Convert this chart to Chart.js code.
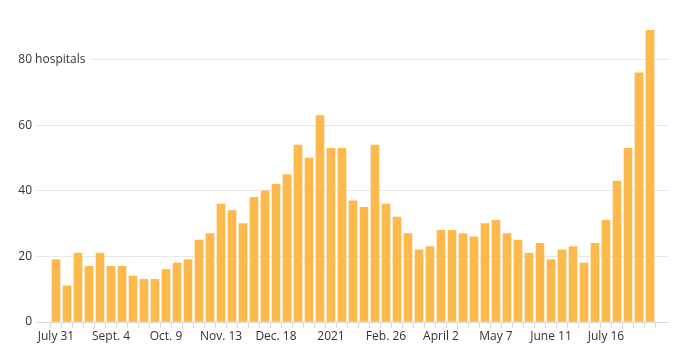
<!DOCTYPE html>
<html>
<head>
<meta charset="utf-8">
<script src="https://cdn.jsdelivr.net/npm/chart.js@4/dist/chart.umd.min.js"></script>
<style>
  html, body { margin: 0; padding: 0; background: #fff; }
  #wrap { width: 685px; height: 353px; }
</style>
</head>
<body>
<div id="wrap"><canvas id="c" width="685" height="353"></canvas></div>
<script>
// Weekly categories (week ending), July 31, 2020 - Aug. 13, 2021
const categories = [
  "July 31","Aug. 7","Aug. 14","Aug. 21","Aug. 28",
  "Sept. 4","Sept. 11","Sept. 18","Sept. 25","Oct. 2",
  "Oct. 9","Oct. 16","Oct. 23","Oct. 30","Nov. 6",
  "Nov. 13","Nov. 20","Nov. 27","Dec. 4","Dec. 11",
  "Dec. 18","Dec. 25","Jan. 1","Jan. 8","Jan. 15",
  "Jan. 22","Jan. 29","Feb. 5","Feb. 12","Feb. 19",
  "Feb. 26","March 5","March 12","March 19","March 26",
  "April 2","April 9","April 16","April 23","April 30",
  "May 7","May 14","May 21","May 28","June 4",
  "June 11","June 18","June 25","July 2","July 9",
  "July 16","July 23","July 30","Aug. 6","Aug. 13"
];
// Number of hospitals
const hospitals = [
  19, 11, 21, 17, 21,
  17, 17, 14, 13, 13,
  16, 18, 19, 25, 27,
  36, 34, 30, 38, 40,
  42, 45, 54, 50, 63,
  53, 53, 37, 35, 54,
  36, 32, 27, 22, 23,
  28, 28, 27, 26, 30,
  31, 27, 25, 21, 24,
  19, 22, 23, 18, 24,
  31, 43, 53, 76, 89
];
// Shown x tick labels (every fifth week)
const tickLabels = ["July 31","Sept. 4","Oct. 9","Nov. 13","Dec. 18","2021","Feb. 26","April 2","May 7","June 11","July 16"];
// Y tick values
const yTicks = [0, 20, 40, 60, 80];
const yUnit = " hospitals";

const FONT = "'Open Sans', 'DejaVu Sans', sans-serif";
const TEXT = "#333333";

const unitPlugin = {
  id: 'unitLabel',
  beforeDatasetsDraw(chart) {
    const y = chart.scales.y;
    const ctx = chart.ctx;
    const top = yTicks[yTicks.length - 1];
    const py = y.getPixelForValue(top);
    ctx.save();
    ctx.font = "12px " + FONT;
    const startX = y.right - 4;
    const w = ctx.measureText(yUnit).width;
    ctx.fillStyle = "#ffffff";
    ctx.fillRect(chart.chartArea.left - 1, py - 2, startX + w + 6 - chart.chartArea.left + 1, 4);
    ctx.fillStyle = TEXT;
    ctx.textAlign = "left";
    ctx.textBaseline = "middle";
    ctx.fillText(yUnit, startX, py);
    ctx.restore();
  }
};

new Chart(document.getElementById('c'), {
  type: 'bar',
  data: {
    datasets: [{
      label: 'Hospitals',
      data: hospitals.map((v, i) => ({ x: i, y: v })),
      backgroundColor: '#fdb94b',
      borderWidth: 0,
      barThickness: 8
    }]
  },
  options: {
    responsive: false,
    animation: false,
    devicePixelRatio: 1,
    layout: { padding: { top: 27, right: 16, left: 0, bottom: 0 } },
    plugins: { legend: { display: false }, tooltip: { enabled: false } },
    scales: {
      x: {
        type: 'linear',
        offset: false,
        min: -20 / 11,
        max: 54 + 19 / 11,
        afterBuildTicks: (s) => { s.ticks = categories.map((c, i) => ({ value: i })); },
        afterFit: (s) => { s.height = 31; },
        grid: { drawOnChartArea: false, drawTicks: true, tickLength: 6, color: '#d9d9d9' },
        border: { display: false },
        ticks: {
          autoSkip: false,
          maxRotation: 0,
          padding: 1,
          color: TEXT,
          font: { family: FONT, size: 12 },
          callback: (v, i) => (i % 5 === 0 ? tickLabels[i / 5] : '')
        }
      },
      y: {
        min: 0,
        max: 90,
        afterBuildTicks: (s) => { s.ticks = yTicks.map(v => ({ value: v })); },
        afterFit: (s) => { s.width = 36; },
        grid: {
          drawTicks: false,
          color: (ctx) => (ctx.tick && ctx.tick.value === 0 ? '#d9d9d9' : '#e8e8e8')
        },
        border: { display: false },
        ticks: {
          padding: 4,
          color: TEXT,
          font: { family: FONT, size: 12 },
          callback: (v) => String(v)
        }
      }
    }
  },
  plugins: [unitPlugin]
});
</script>
</body>
</html>
